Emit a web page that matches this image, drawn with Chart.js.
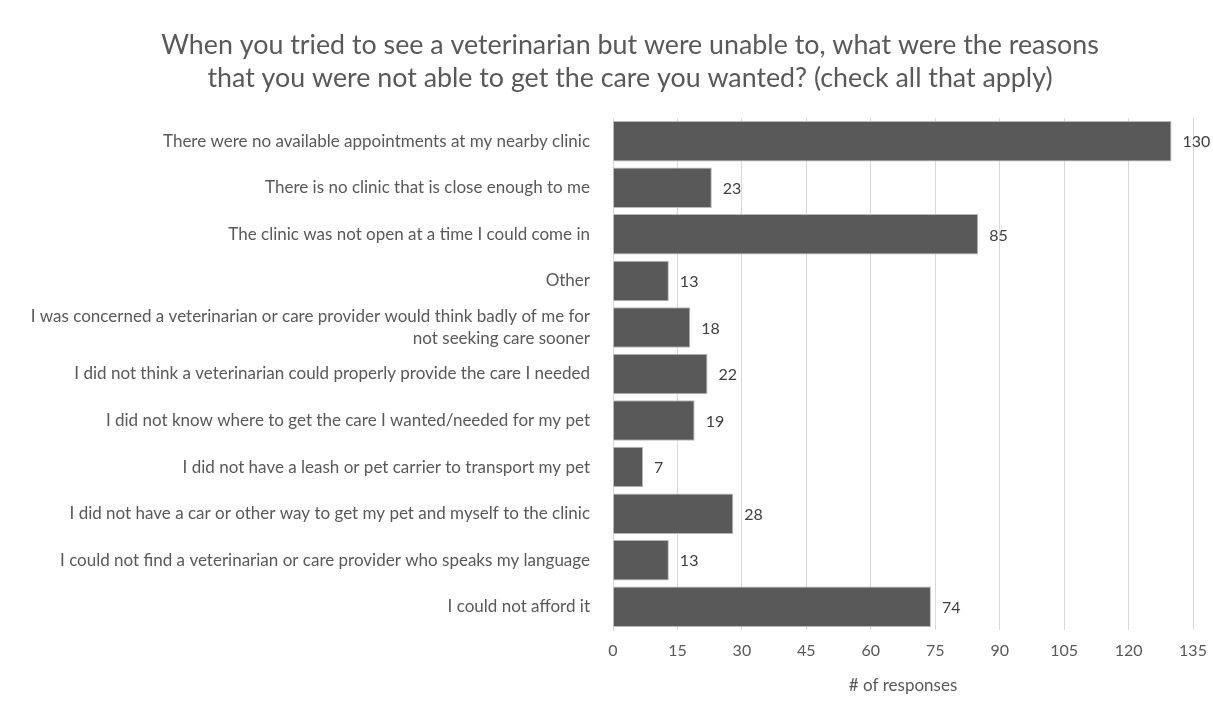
<!DOCTYPE html>
<html>
<head>
<meta charset="utf-8">
<script src="https://cdn.jsdelivr.net/npm/chart.js"></script>
<style>
  body { margin: 0; background: #fff; }
  canvas { display: block; }
</style>
</head>
<body>
<canvas id="chart" width="1213" height="711"></canvas>
<script>
// survey reasons, top to bottom as shown
const reasons = [
  'There were no available appointments at my nearby clinic',
  'There is no clinic that is close enough to me',
  'The clinic was not open at a time I could come in',
  'Other',
  ['I was concerned a veterinarian or care provider would think badly of me for', 'not seeking care sooner'],
  'I did not think a veterinarian could properly provide the care I needed',
  'I did not know where to get the care I wanted/needed for my pet',
  'I did not have a leash or pet carrier to transport my pet',
  'I did not have a car or other way to get my pet and myself to the clinic',
  'I could not find a veterinarian or care provider who speaks my language',
  'I could not afford it'
];
const responses = [130, 23, 85, 13, 18, 22, 19, 7, 28, 13, 74];

const titleLines = [
  'When you tried to see a veterinarian but were unable to, what were the reasons',
  'that you were not able to get the care you wanted? (check all that apply)'
];

const FONT = 'Lato, "Open Sans", sans-serif';
const TEXT = '#595959';

// title is drawn by hand so it can sit off-centre like the original
const titleText = {
  id: 'titleText',
  afterDraw(chart) {
    const ctx = chart.ctx;
    ctx.save();
    ctx.font = '26.8px ' + FONT;
    ctx.fillStyle = TEXT;
    ctx.textAlign = 'center';
    ctx.textBaseline = 'middle';
    titleLines.forEach((line, i) => ctx.fillText(line, 630, 45 + i * 33.5));
    ctx.restore();
  }
};

// value labels at the end of each bar
const valueLabels = {
  id: 'valueLabels',
  afterDatasetsDraw(chart) {
    const ctx = chart.ctx;
    const meta = chart.getDatasetMeta(0);
    ctx.save();
    ctx.font = '16px ' + FONT;
    ctx.fillStyle = '#404040';
    ctx.textAlign = 'left';
    ctx.textBaseline = 'middle';
    meta.data.forEach((bar, i) => {
      ctx.fillText(String(responses[i]), bar.x + 11, bar.y + 1);
    });
    ctx.restore();
  }
};

new Chart(document.getElementById('chart').getContext('2d'), {
  type: 'bar',
  data: {
    labels: reasons,
    datasets: [{
      data: responses,
      backgroundColor: '#595959',
      borderColor: '#b8b8b8',
      borderWidth: 1,
      barPercentage: 0.87,
      categoryPercentage: 1
    }]
  },
  options: {
    indexAxis: 'y',
    responsive: false,
    animation: false,
    layout: { padding: { left: 0, right: 20, top: 118, bottom: 15 } },
    plugins: {
      legend: { display: false },
      tooltip: { enabled: false },
      title: { display: false }
    },
    scales: {
      x: {
        min: 0,
        max: 135,
        afterFit(scale) {
          scale.height = 66;
          scale.paddingLeft = 0;
          scale.paddingRight = 0;
        },
        ticks: {
          stepSize: 15,
          color: TEXT,
          padding: 11,
          font: { family: FONT, size: 16 }
        },
        grid: { color: '#d9d9d9', drawTicks: false },
        border: { display: false },
        title: {
          display: true,
          text: '# of responses',
          color: TEXT,
          font: { family: FONT, size: 17 },
          padding: { top: 16, bottom: 0 }
        }
      },
      y: {
        afterFit(scale) { scale.width = 613; },
        ticks: {
          autoSkip: false,
          color: TEXT,
          padding: 15,
          font: { family: FONT, size: 17, lineHeight: 1.3 }
        },
        grid: { display: false },
        border: { display: true, color: '#d9d9d9' }
      }
    }
  },
  plugins: [valueLabels, titleText]
});
</script>
</body>
</html>
